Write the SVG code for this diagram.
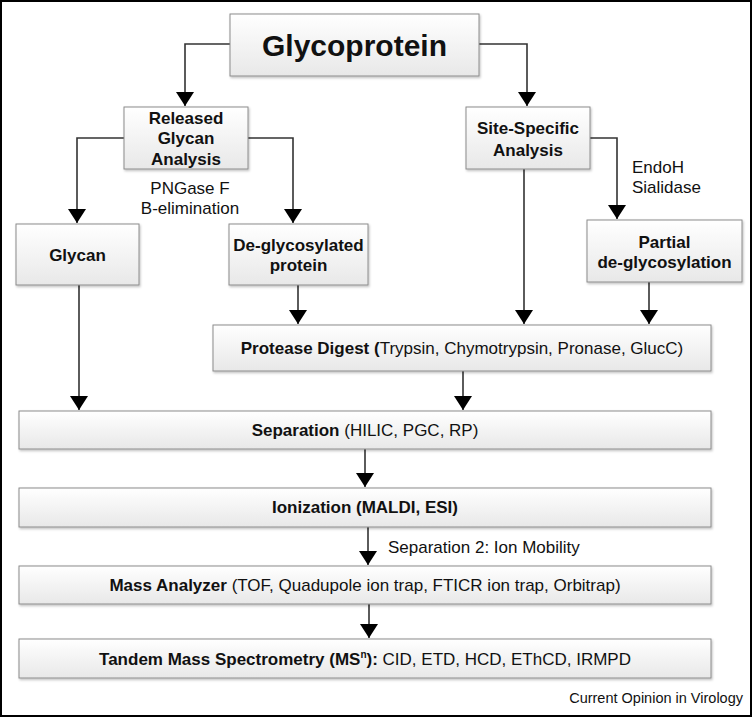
<svg xmlns="http://www.w3.org/2000/svg" width="753" height="718" viewBox="0 0 753 718">
<style>
.box{fill:url(#g);stroke:#8c8c8c;stroke-width:1;filter:url(#sh)}
.t{font-family:"Liberation Sans",Arial,sans-serif;font-size:17px;fill:#111}
.b{font-weight:bold}
.c{text-anchor:middle}
.ln{fill:none;stroke:#333;stroke-width:1.6}
</style>
<defs>
<linearGradient id="g" x1="0" y1="0" x2="0" y2="1"><stop offset="0" stop-color="#ffffff"/><stop offset="1" stop-color="#e8e8e8"/></linearGradient>
<filter id="sh" x="-5%" y="-10%" width="110%" height="130%"><feDropShadow dx="1" dy="1.5" stdDeviation="1" flood-color="#000" flood-opacity="0.25"/></filter>
<marker id="ah" viewBox="0 0 14 18" refX="14" refY="9" markerWidth="14" markerHeight="18" markerUnits="userSpaceOnUse" orient="auto"><path d="M0,0 L14,9 L0,18 z" fill="#000"/></marker>
</defs>
<rect x="1" y="1" width="750" height="715" fill="#fff" stroke="#000" stroke-width="2"/>
<g id="connectors">
<path class="ln" marker-end="url(#ah)" d="M230,44 H185 V106"/>
<path class="ln" marker-end="url(#ah)" d="M479,44 H527 V106"/>
<path class="ln" marker-end="url(#ah)" d="M124,138 H77 V223"/>
<path class="ln" marker-end="url(#ah)" d="M248,138 H293 V223"/>
<path class="ln" marker-end="url(#ah)" d="M590,138 H617 V219"/>
<path class="ln" marker-end="url(#ah)" d="M524,169 V324"/>
<path class="ln" marker-end="url(#ah)" d="M298,285 V324"/>
<path class="ln" marker-end="url(#ah)" d="M649,282 V324"/>
<path class="ln" marker-end="url(#ah)" d="M79,285 V410"/>
<path class="ln" marker-end="url(#ah)" d="M463,371 V410"/>
<path class="ln" marker-end="url(#ah)" d="M365,449 V487"/>
<path class="ln" marker-end="url(#ah)" d="M368,527 V565"/>
<path class="ln" marker-end="url(#ah)" d="M369,604 V638"/>
</g>
<g id="glycoprotein"><rect class="box" x="230" y="14" width="249" height="62"/><text class="t b c" x="354.5" y="56" style="font-size:30px">Glycoprotein</text></g>
<g id="released"><rect class="box" x="124" y="107" width="124" height="62"/><text class="t b c" x="186" y="124">Released</text><text class="t b c" x="186" y="144">Glycan</text><text class="t b c" x="186" y="165">Analysis</text></g>
<g id="site"><rect class="box" x="466" y="107" width="124" height="62"/><text class="t b c" x="528" y="134">Site-Specific</text><text class="t b c" x="528" y="156">Analysis</text></g>
<g id="lbl-pngase"><text class="t c" x="190" y="194">PNGase F</text><text class="t c" x="190" y="214">B-elimination</text></g>
<g id="lbl-endoh"><text class="t" x="632" y="173">EndoH</text><text class="t" x="632" y="193">Sialidase</text></g>
<g id="glycan"><rect class="box" x="16" y="224" width="123" height="61"/><text class="t b c" x="77.5" y="261">Glycan</text></g>
<g id="deglyco"><rect class="box" x="229" y="224" width="139" height="61"/><text class="t b c" x="298.5" y="251">De-glycosylated</text><text class="t b c" x="298.5" y="271">protein</text></g>
<g id="partial"><rect class="box" x="587" y="220" width="155" height="62"/><text class="t b c" x="664.5" y="248">Partial</text><text class="t b c" x="664.5" y="268">de-glycosylation</text></g>
<g id="protease"><rect class="box" x="213" y="325" width="498" height="46"/><text class="t c" x="462" y="354"><tspan class="b">Protease Digest (</tspan>Trypsin, Chymotrypsin, Pronase, GlucC)</text></g>
<g id="separation"><rect class="box" x="19" y="411" width="692" height="38"/><text class="t c" x="365" y="436"><tspan class="b">Separation </tspan>(HILIC, PGC, RP)</text></g>
<g id="ionization"><rect class="box" x="19" y="488" width="692" height="39"/><text class="t b c" x="365" y="513">Ionization (MALDI, ESI)</text></g>
<g id="lbl-sep2"><text class="t" x="388" y="553">Separation 2: Ion Mobility</text></g>
<g id="mass"><rect class="box" x="19" y="566" width="692" height="38"/><text class="t c" x="365" y="591"><tspan class="b">Mass Analyzer </tspan>(TOF, Quadupole ion trap, FTICR ion trap, Orbitrap)</text></g>
<g id="tandem"><rect class="box" x="19" y="639" width="692" height="39"/><text class="t c" x="365" y="665"><tspan class="b">Tandem Mass Spectrometry (MS</tspan><tspan class="b" dy="-7" style="font-size:10px">n</tspan><tspan class="b" dy="7">):</tspan> CID, ETD, HCD, EThCD, IRMPD</text></g>
<g id="credit"><text class="t" x="743" y="703" text-anchor="end" style="font-size:14.5px">Current Opinion in Virology</text></g>
</svg>
